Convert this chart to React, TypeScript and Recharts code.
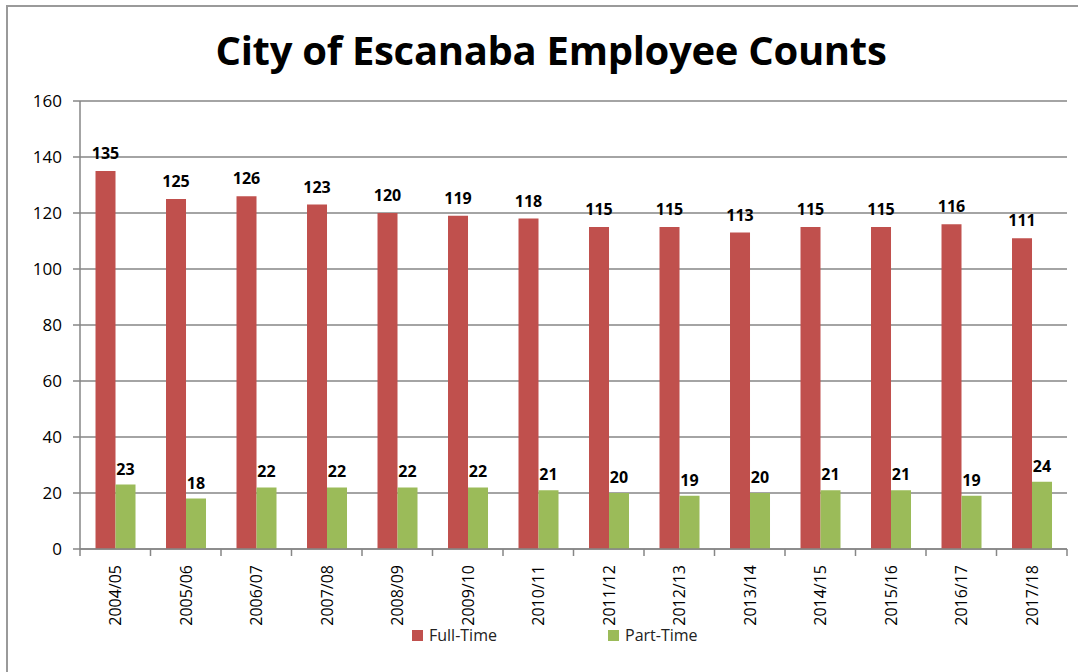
import React from "react";
import { BarChart, Bar, XAxis, YAxis, CartesianGrid, LabelList } from "recharts";

const years = [
  "2004/05", "2005/06", "2006/07", "2007/08", "2008/09", "2009/10", "2010/11",
  "2011/12", "2012/13", "2013/14", "2014/15", "2015/16", "2016/17", "2017/18",
];
const fullTime = [135, 125, 126, 123, 120, 119, 118, 115, 115, 113, 115, 115, 116, 111];
const partTime = [23, 18, 22, 22, 22, 22, 21, 20, 19, 20, 21, 21, 19, 24];
const yTicks = [0, 20, 40, 60, 80, 100, 120, 140, 160];

const series = [
  { key: "full", name: "Full-Time", color: "#C0504D", values: fullTime, labelOffset: 12 },
  { key: "part", name: "Part-Time", color: "#9BBB59", values: partTime, labelOffset: 10 },
];

const data = years.map((year, i) => ({ year, full: fullTime[i], part: partTime[i] }));

const W = 1078;
const H = 672;
const PLOT_LEFT = 80;
const PLOT_RIGHT = 1067;
const PLOT_BOTTOM = 549;
const BAND = (PLOT_RIGHT - PLOT_LEFT) / years.length;
const FONT = "'Open Sans', sans-serif";
const AXIS = "#868686";

function XTick(props: any) {
  const { x, payload, index } = props;
  const y = PLOT_BOTTOM;
  const left = x - BAND / 2;
  const ty = y + 16;
  return (
    <g>
      <line x1={left} y1={y} x2={left} y2={y + 7} stroke={AXIS} strokeWidth={1.5} />
      {index === years.length - 1 && (
        <line x1={x + BAND / 2} y1={y} x2={x + BAND / 2} y2={y + 7} stroke={AXIS} strokeWidth={1.5} />
      )}
      <text
        x={x}
        y={ty}
        transform={`rotate(-90, ${x}, ${ty})`}
        textAnchor="end"
        dy="0.36em"
        fontSize={16}
        fontFamily={FONT}
        fill="#000"
      >
        {payload.value}
      </text>
    </g>
  );
}

export default function App() {
  return (
    <div style={{ position: "absolute", left: 0, top: 0, width: W, height: H, background: "#fff", overflow: "hidden" }}>
      <div
        style={{
          position: "absolute",
          left: 6,
          top: 5,
          width: W,
          height: H,
          borderLeft: "2px solid #9a9a9a",
          borderTop: "2px solid #9a9a9a",
        }}
      />
      <div
        style={{
          position: "absolute",
          left: 0,
          top: 22,
          width: 1102,
          textAlign: "center",
          fontFamily: FONT,
          fontWeight: 700,
          fontSize: 40,
          letterSpacing: -0.3,
          color: "#000",
        }}
      >
        City of Escanaba Employee Counts
      </div>
      <div style={{ position: "absolute", left: 0, top: 0 }}>
        <BarChart
          width={W}
          height={H}
          data={data}
          margin={{ top: 101, right: W - PLOT_RIGHT, bottom: 0, left: 0 }}
          barCategoryGap="22%"
          barGap={0}
        >
          <CartesianGrid vertical={false} stroke={AXIS} strokeWidth={1.5} />
          <XAxis
            dataKey="year"
            interval={0}
            height={H - 101 - (PLOT_BOTTOM - 101)}
            tickLine={false}
            axisLine={{ stroke: AXIS, strokeWidth: 1.5 }}
            tick={<XTick />}
          />
          <YAxis
            width={PLOT_LEFT}
            domain={[0, 160]}
            ticks={yTicks}
            interval={0}
            tickSize={7}
            tickMargin={11}
            tickLine={{ stroke: AXIS, strokeWidth: 1.5 }}
            axisLine={{ stroke: AXIS, strokeWidth: 1.5 }}
            tick={{ fontSize: 17, fontFamily: FONT, fill: "#000" }}
          />
          {series.map((s) => (
            <Bar key={s.key} dataKey={s.key} name={s.name} fill={s.color} isAnimationActive={false}>
              <LabelList
                dataKey={s.key}
                position="top"
                offset={s.labelOffset}
                style={{ fontSize: 16, fontWeight: 700, fontFamily: FONT, fill: "#000" }}
              />
            </Bar>
          ))}
        </BarChart>
      </div>
      {series.map((s, i) => (
        <div
          key={s.key}
          style={{
            position: "absolute",
            left: i === 0 ? 412 : 608,
            top: 624,
            display: "flex",
            alignItems: "center",
            fontFamily: FONT,
            fontSize: 16,
            color: "#222",
          }}
        >
          <span style={{ display: "inline-block", width: 11, height: 11, background: s.color, marginRight: 6 }} />
          {s.name}
        </div>
      ))}
    </div>
  );
}
